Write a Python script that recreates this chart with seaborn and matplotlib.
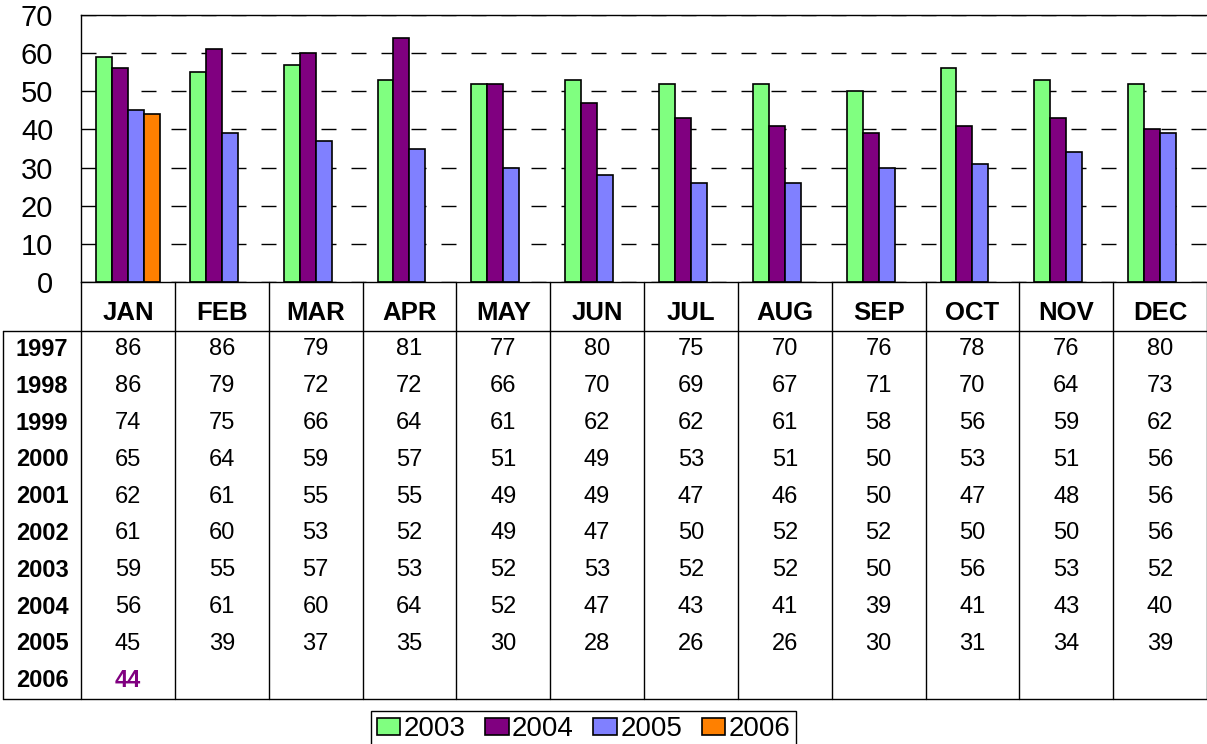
import matplotlib
matplotlib.use("Agg")
import pandas as pd
import matplotlib.pyplot as plt
import seaborn as sns

# monthly values per year (table), last four years are also drawn as bars
months = ["JAN", "FEB", "MAR", "APR", "MAY", "JUN", "JUL", "AUG", "SEP", "OCT", "NOV", "DEC"]
years = ["1997", "1998", "1999", "2000", "2001", "2002", "2003", "2004", "2005", "2006"]
y1997 = [86, 86, 79, 81, 77, 80, 75, 70, 76, 78, 76, 80]
y1998 = [86, 79, 72, 72, 66, 70, 69, 67, 71, 70, 64, 73]
y1999 = [74, 75, 66, 64, 61, 62, 62, 61, 58, 56, 59, 62]
y2000 = [65, 64, 59, 57, 51, 49, 53, 51, 50, 53, 51, 56]
y2001 = [62, 61, 55, 55, 49, 49, 47, 46, 50, 47, 48, 56]
y2002 = [61, 60, 53, 52, 49, 47, 50, 52, 52, 50, 50, 56]
y2003 = [59, 55, 57, 53, 52, 53, 52, 52, 50, 56, 53, 52]
y2004 = [56, 61, 60, 64, 52, 47, 43, 41, 39, 41, 43, 40]
y2005 = [45, 39, 37, 35, 30, 28, 26, 26, 30, 31, 34, 39]
y2006 = [44]

table_rows = [y1997, y1998, y1999, y2000, y2001, y2002, y2003, y2004, y2005, y2006]
bar_years = ["2003", "2004", "2005", "2006"]
bar_rows = [y2003, y2004, y2005, y2006]
colors = ["#80FF80", "#800080", "#8080FF", "#FF8000"]
yticks = [0, 10, 20, 30, 40, 50, 60, 70]

records = []
for yr, vals in zip(bar_years, bar_rows):
    for m, v in zip(months, vals):
        records.append({"month": m, "year": yr, "value": v})
df = pd.DataFrame(records)

sns.set_style("white")
plt.rcParams["font.family"] = ["Liberation Sans", "DejaVu Sans"]
plt.rcParams["text.color"] = "black"

W, H = 1207, 744
fig = plt.figure(figsize=(W / 100, H / 100), dpi=100)
ax = fig.add_axes([81 / W, (H - 282) / H, 1126 / W, 267 / H])

sns.barplot(data=df, x="month", y="value", hue="year", order=months,
            hue_order=bar_years, palette=colors, saturation=1, width=0.68,
            edgecolor="black", linewidth=1.2, errorbar=None, ax=ax)

ax.set_ylim(0, 70)
ax.set_xlim(-0.5, 11.5)
ax.set_yticks(yticks)
ax.set_yticklabels([str(t) for t in yticks], fontsize=21)
ax.tick_params(axis="y", length=0, pad=20, colors="black")
ax.tick_params(axis="x", bottom=False, labelbottom=False)
ax.set_xlabel("")
ax.set_ylabel("")
ax.set_axisbelow(True)
ax.yaxis.grid(True, color="black", linewidth=1, linestyle=(0, (10.8, 10.8)))
for side in ["left", "top", "bottom"]:
    ax.spines[side].set_color("black")
    ax.spines[side].set_linewidth(1)
ax.spines["right"].set_visible(False)

sns.move_legend(ax, "lower center", bbox_to_anchor=(583.5 / W, -4 / H),
                bbox_transform=fig.transFigure, ncol=4, title=None,
                frameon=True, fancybox=False, fontsize=20, handlelength=0.85,
                handleheight=0.55, handletextpad=0.12, columnspacing=0.7,
                borderpad=0.2, borderaxespad=0, edgecolor="black", framealpha=1)
ax.get_legend().get_frame().set_linewidth(1)

# data table under the chart
tab = fig.add_axes([81 / W, (H - 699) / H, 1126 / W, 417 / H])
tab.set_xlim(-0.5, 11.5)
tab.set_ylim(417, 0)
tab.axis("off")

col_w = 1126 / 12
head_h = 49
row_h = 36.8
x_left = -0.5 - 78 / col_w
x_lab = -0.5 - 39 / col_w

for k in range(13):
    tab.plot([-0.5 + k, -0.5 + k], [0, 417], color="black", lw=1, clip_on=False)
tab.plot([x_left, x_left], [head_h, 417], color="black", lw=1, clip_on=False)
tab.plot([x_left, 11.5], [head_h, head_h], color="black", lw=1, clip_on=False)
tab.plot([x_left, 11.5], [417, 417], color="black", lw=1, clip_on=False)

for i, m in enumerate(months):
    tab.text(i, 31, m, ha="center", va="center", fontsize=18.5, fontweight="bold")

for r, (yr, vals) in enumerate(zip(years, table_rows)):
    yc = head_h + row_h / 2 + r * row_h
    tab.text(x_lab, yc, yr, ha="center", va="center", fontsize=17, fontweight="bold")
    last = yr == "2006"
    for i, v in enumerate(vals):
        tab.text(i, yc, str(v), ha="center", va="center", fontsize=17,
                 color="#800080" if last else "black",
                 fontweight="bold" if last else "normal")

fig.savefig("out.png", dpi=100)
